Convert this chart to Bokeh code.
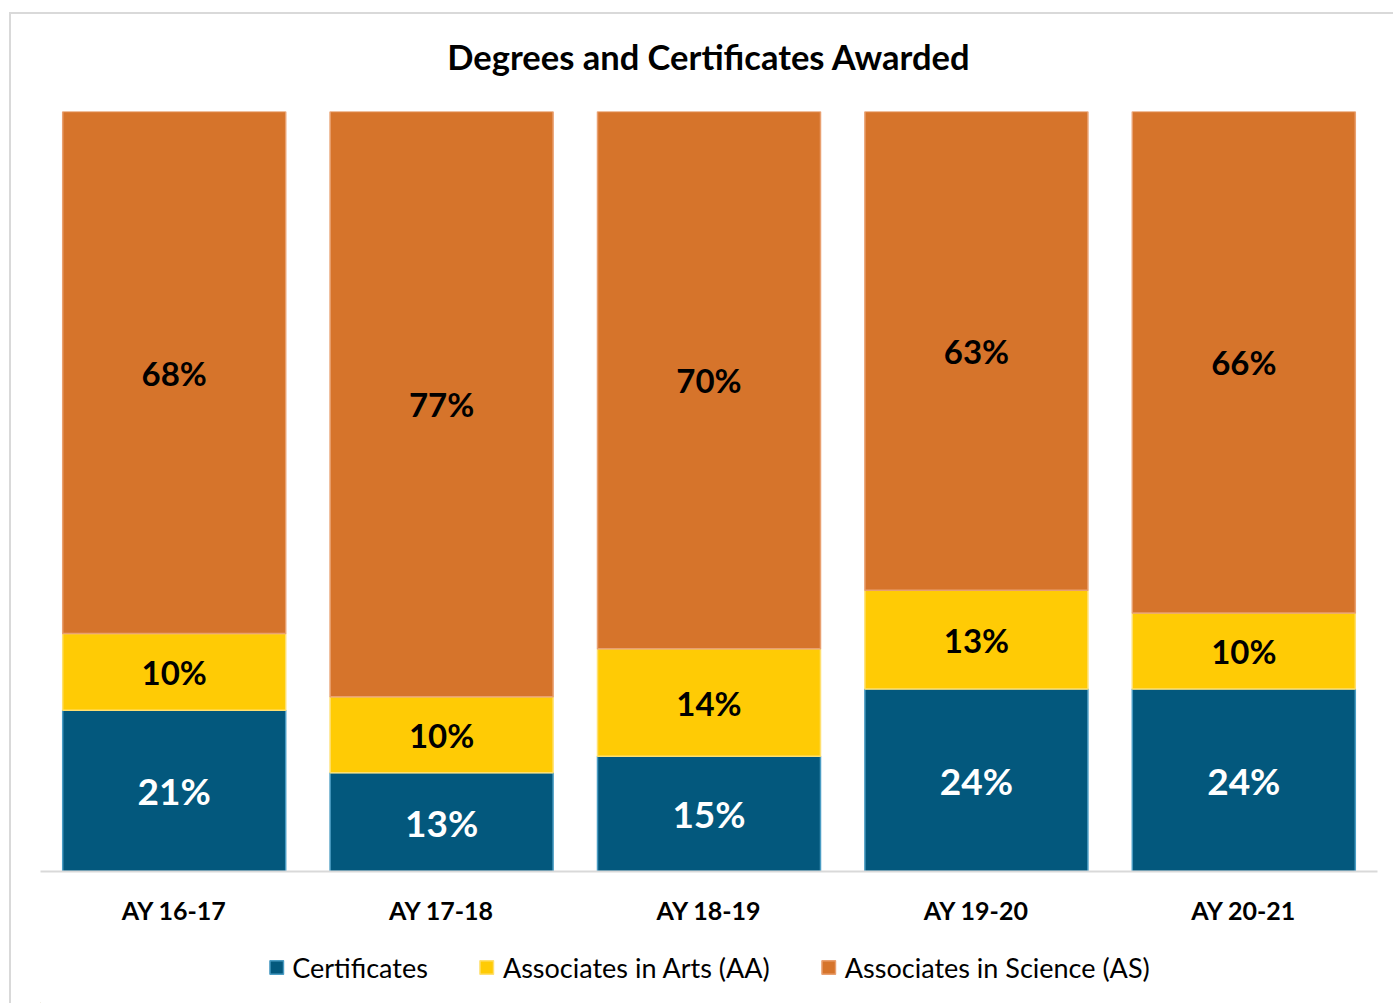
from bokeh.plotting import figure
from bokeh.models import ColumnDataSource, Range1d, Legend, LegendItem, Label
from bokeh.layouts import column
from bokeh.core.properties import value
from bokeh.embed import file_html
from bokeh.resources import INLINE

years = ["AY 16-17", "AY 17-18", "AY 18-19", "AY 19-20", "AY 20-21"]
certificates = [21, 13, 15, 24, 24]
assoc_arts = [10, 10, 14, 13, 10]
assoc_science = [68, 77, 70, 63, 66]
series_names = ["Certificates", "Associates in Arts (AA)", "Associates in Science (AS)"]
colors = ["#03587D", "#FFCB05", "#D6742B"]
edge_colors = ["#4A9CC3", "#FFE070", "#E9A070"]
title_text = "Degrees and Certificates Awarded"

FONT = "Lato"
W = 1382
ML, MR = 29, 16


def strip(height, **kw):
    f = figure(width=W, height=height, x_range=Range1d(0, 1), y_range=Range1d(0, 1),
               output_backend="svg", toolbar_location=None,
               x_axis_location=None, y_axis_location=None,
               min_border_top=0, min_border_bottom=0, **kw)
    f.xgrid.visible = False
    f.ygrid.visible = False
    f.outline_line_color = None
    f.border_fill_color = "white"
    return f


totals = [c + a + s for c, a, s in zip(certificates, assoc_arts, assoc_science)]
c_n = [c / t for c, t in zip(certificates, totals)]
a_n = [a / t for a, t in zip(assoc_arts, totals)]
s_n = [s / t for s, t in zip(assoc_science, totals)]

src = ColumnDataSource(dict(year=years, c=c_n, a=a_n, s=s_n))

# title strip
top = strip(84, min_border_left=ML, min_border_right=MR)
top.add_layout(Label(x=0.5, y=0.5, text=title_text, text_align="center", text_baseline="middle",
                     text_font=FONT, text_font_size="34.5px", text_font_style="bold",
                     text_color="#000000"))

p = figure(x_range=years, y_range=Range1d(0, 1), width=W, height=833,
           output_backend="svg", toolbar_location=None, y_axis_location=None,
           min_border_left=ML, min_border_right=MR, min_border_top=13,
           min_border_bottom=60)

rs = p.vbar_stack(["c", "a", "s"], x="year", width=0.834, source=src,
                  fill_color=colors, line_color=edge_colors, line_width=1.5)

p.xgrid.visible = False
p.ygrid.visible = False
p.outline_line_color = None
p.background_fill_color = "white"
p.border_fill_color = "white"

ax = p.xaxis[0]
ax.axis_line_color = "#d9d9d9"
ax.axis_line_width = 2
ax.major_tick_line_color = None
ax.minor_tick_line_color = None
ax.major_label_text_font = FONT
ax.major_label_text_font_size = "25px"
ax.major_label_text_font_style = "bold"
ax.major_label_text_color = "#000000"
ax.major_label_standoff = 17

# data labels
c_mid = [c / 2 for c in c_n]
a_mid = [c + a / 2 for c, a in zip(c_n, a_n)]
s_mid = [c + a + s / 2 for c, a, s in zip(c_n, a_n, s_n)]
lab_c = ColumnDataSource(dict(year=years, y=c_mid, t=[f"{v}%" for v in certificates]))
lab_a = ColumnDataSource(dict(year=years, y=a_mid, t=[f"{v}%" for v in assoc_arts]))
lab_s = ColumnDataSource(dict(year=years, y=s_mid, t=[f"{v}%" for v in assoc_science]))

p.text(x="year", y="y", text="t", source=lab_c, text_align="center", text_baseline="middle",
       text_font=value(FONT), text_font_style="bold", text_font_size="37px", text_color="white")
p.text(x="year", y="y", text="t", source=lab_a, text_align="center", text_baseline="middle",
       text_font=value(FONT), text_font_style="bold", text_font_size="33px", text_color="black")
p.text(x="year", y="y", text="t", source=lab_s, text_align="center", text_baseline="middle",
       text_font=value(FONT), text_font_style="bold", text_font_size="33px", text_color="black")

# legend strip below the chart (swatch renderers sit outside the visible range)
lg = strip(72, min_border_left=22, min_border_right=0)
swatch_src = ColumnDataSource(dict(x=[-10], top=[-10], bottom=[-11]))
dummy = []
for fc, ec in zip(colors, edge_colors):
    dummy.append(lg.vbar(x="x", top="top", bottom="bottom", width=0.1, source=swatch_src,
                         fill_color=fc, line_color=ec, line_width=1.5))

legend = Legend(items=[LegendItem(label=n, renderers=[r]) for n, r in zip(series_names, dummy)],
                orientation="horizontal", location="center")
legend.label_text_font = FONT
legend.label_text_font_size = "27px"
legend.label_text_color = "#000000"
legend.glyph_width = 17
legend.glyph_height = 17
legend.label_standoff = 8
legend.spacing = 50
legend.padding = 0
legend.margin = 0
legend.border_line_color = None
legend.background_fill_alpha = 0
lg.add_layout(legend, "center")

layout = column(top, p, lg, spacing=0)
layout.margin = (12, 0, 0, 9)
layout.styles = {"border-left": "2px solid #d9d9d9", "border-top": "2px solid #d9d9d9"}

open("out.html", "w").write(file_html(layout, INLINE))
